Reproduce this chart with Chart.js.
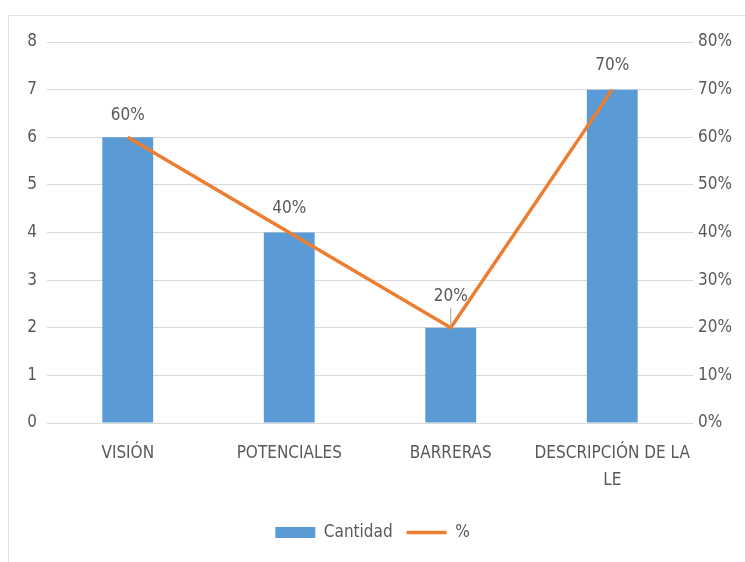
<!DOCTYPE html>
<html>
<head>
<meta charset="utf-8">
<script src="https://cdn.jsdelivr.net/npm/chart.js@4.4.0/dist/chart.umd.min.js"></script>
<style>
  html, body { margin: 0; padding: 0; background: #ffffff; }
  #frame { position: absolute; left: 8px; top: 15px; width: 800px; height: 600px; border: 1px solid #e3e3e3; box-sizing: border-box; }
  #wrap { position: absolute; left: 0; top: 0; width: 745px; height: 562px; }
</style>
</head>
<body>
<div id="frame"></div>
<div id="wrap"><canvas id="c" width="745" height="562"></canvas></div>
<script>
const categories = ['VISIÓN', 'POTENCIALES', 'BARRERAS', ['DESCRIPCIÓN DE LA', 'LE']];
const cantidad = [6, 4, 2, 7];
const porcentaje = [60, 40, 20, 70];
const leftTicks = [0, 1, 2, 3, 4, 5, 6, 7, 8];
const rightTicks = [0, 10, 20, 30, 40, 50, 60, 70, 80];

const FONT = '"Liberation Sans Narrow", "DejaVu Sans Condensed", "Liberation Sans", sans-serif';
const TEXT = '#595959';
const GRID = '#d9d9d9';

const labelPlugin = {
  id: 'pointLabels',
  afterDatasetsDraw(chart, args, opts) {
    const ctx = chart.ctx;
    const meta = chart.getDatasetMeta(1);
    ctx.save();
    ctx.font = '17px ' + FONT;
    ctx.fillStyle = TEXT;
    ctx.textAlign = 'center';
    ctx.textBaseline = 'middle';
    meta.data.forEach((pt, i) => {
      const off = opts.offsets[i];
      ctx.fillText(porcentaje[i] + '%', pt.x, pt.y - off);
      if (opts.leader[i]) {
        ctx.strokeStyle = '#a6a6a6';
        ctx.lineWidth = 1;
        ctx.beginPath();
        ctx.moveTo(pt.x, pt.y - off + 11);
        ctx.lineTo(pt.x, pt.y - 2);
        ctx.stroke();
      }
    });
    ctx.restore();
  }
};

new Chart(document.getElementById('c'), {
  data: {
    labels: categories,
    datasets: [
      {
        type: 'bar',
        label: 'Cantidad',
        data: cantidad,
        backgroundColor: '#5b9bd5',
        borderWidth: 0,
        yAxisID: 'y',
        categoryPercentage: 1.0,
        barPercentage: 0.315,
        order: 2
      },
      {
        type: 'line',
        label: '%',
        data: porcentaje,
        borderColor: '#ed7d31',
        backgroundColor: '#ed7d31',
        borderWidth: 3.5,
        pointRadius: 0,
        pointHoverRadius: 0,
        tension: 0,
        yAxisID: 'y1',
        order: 1
      }
    ]
  },
  options: {
    responsive: false,
    animation: false,
    devicePixelRatio: 1,
    layout: { padding: { top: 42, left: 0, right: 0, bottom: 11 } },
    plugins: {
      tooltip: { enabled: false },
      pointLabels: { offsets: [22, 24, 31, 24], leader: [false, false, true, false] },
      legend: {
        position: 'bottom',
        labels: {
          usePointStyle: true,
          pointStyleWidth: 40,
          boxHeight: 11,
          color: TEXT,
          font: { family: FONT, size: 17 },
          padding: 14,
          generateLabels(chart) {
            return chart.data.datasets.map((ds, i) => ({
              text: ds.label,
              fillStyle: ds.backgroundColor,
              strokeStyle: ds.type === 'line' ? ds.borderColor : ds.backgroundColor,
              lineWidth: ds.type === 'line' ? 3.5 : 0,
              pointStyle: ds.type === 'line' ? 'line' : 'rect',
              fontColor: TEXT,
              hidden: false,
              datasetIndex: i
            }));
          }
        }
      }
    },
    scales: {
      x: {
        grid: { display: false, drawTicks: false },
        border: { display: false },
        ticks: { color: TEXT, font: { family: FONT, size: 17, lineHeight: 1.6 }, padding: 17, maxRotation: 0, autoSkip: false },
        afterFit(scale) { scale.height = 87; }
      },
      y: {
        position: 'left',
        min: 0, max: 8,
        afterBuildTicks(scale) { scale.ticks = leftTicks.map(v => ({ value: v })); },
        grid: { color: GRID, lineWidth: 1, drawTicks: false },
        border: { display: false },
        ticks: { color: TEXT, font: { family: FONT, size: 17 }, padding: 10 },
        afterFit(scale) { scale.width = 47; }
      },
      y1: {
        position: 'right',
        min: 0, max: 80,
        afterBuildTicks(scale) { scale.ticks = rightTicks.map(v => ({ value: v })); },
        grid: { display: false, drawTicks: false },
        border: { display: false },
        ticks: { color: TEXT, font: { family: FONT, size: 17 }, padding: 5, callback: v => v + '%' },
        afterFit(scale) { scale.width = 52; }
      }
    }
  },
  plugins: [labelPlugin]
});
</script>
</body>
</html>
